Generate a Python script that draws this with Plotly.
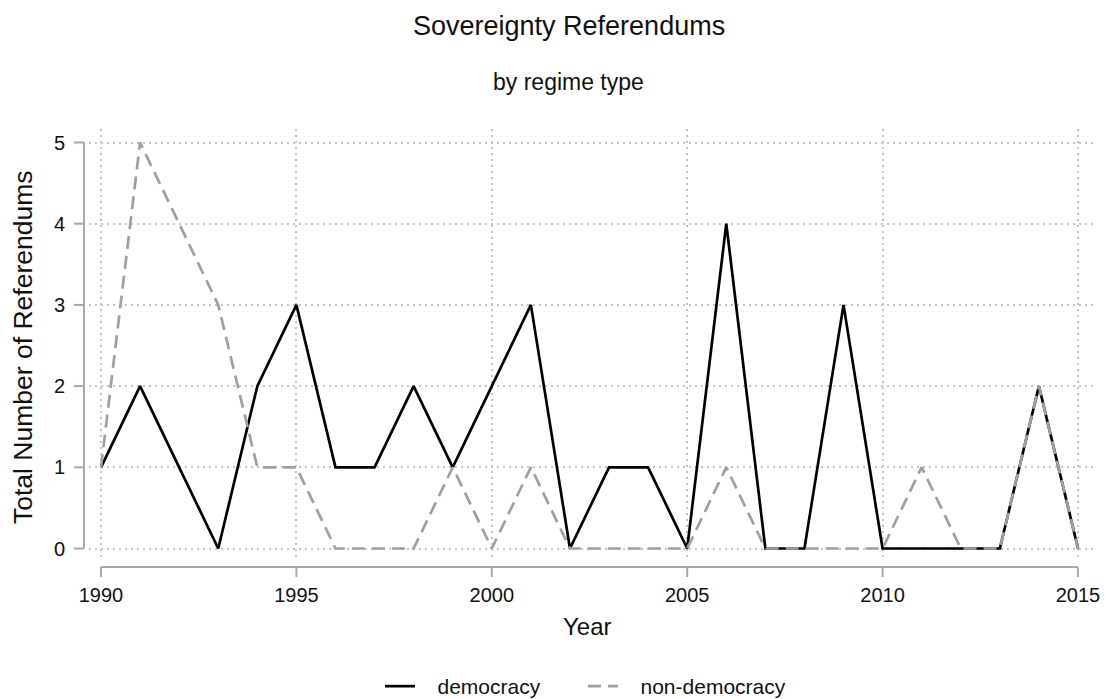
import plotly.graph_objects as go

years = list(range(1990, 2016))
democracy = [1, 2, 1, 0, 2, 3, 1, 1, 2, 1, 2, 3, 0, 1, 1, 0, 4, 0, 0, 3, 0, 0, 0, 0, 2, 0]
non_democracy = [1, 5, 4, 3, 1, 1, 0, 0, 0, 1, 0, 1, 0, 0, 0, 0, 1, 0, 0, 0, 0, 1, 0, 0, 2, 0]
x_ticks = [1990, 1995, 2000, 2005, 2010, 2015]
y_ticks = [0, 1, 2, 3, 4, 5]

FONT = "Liberation Sans, Arial, sans-serif"
W, H = 1107, 699
L, R, T, B = 89, 1093, 129, 560
pw, ph = R - L, B - T

def px_x(p):
    return (p - L) / pw

def px_y(p):
    return (B - p) / ph

AX = "#a9a9a9"
GRID = "#c4c4c4"
NB = "\u00a0" * 3

fig = go.Figure()
fig.add_trace(go.Scatter(x=years, y=democracy, mode="lines", name=NB + "democracy",
                         line=dict(color="black", width=2.7)))
fig.add_trace(go.Scatter(x=years, y=non_democracy, mode="lines", name=NB + "non-democracy",
                         line=dict(color="#a0a0a0", width=2.7, dash="13px,7px")))

shapes = []
# axis lines (Stata style, offset from the plot region)
shapes.append(dict(type="line", xref="paper", yref="y", x0=px_x(84), x1=px_x(84),
                   y0=y_ticks[0], y1=y_ticks[-1], line=dict(color=AX, width=2)))
shapes.append(dict(type="line", xref="x", yref="paper", x0=x_ticks[0], x1=x_ticks[-1],
                   y0=px_y(567), y1=px_y(567), line=dict(color=AX, width=2)))
for v in y_ticks:
    shapes.append(dict(type="line", xref="paper", yref="y", x0=px_x(84), x1=px_x(74),
                       y0=v, y1=v, line=dict(color=AX, width=2)))
for v in x_ticks:
    shapes.append(dict(type="line", xref="x", yref="paper", x0=v, x1=v,
                       y0=px_y(567), y1=px_y(577), line=dict(color=AX, width=2)))

annotations = [
    dict(text="Sovereignty Referendums", x=px_x(568.5), y=px_y(25.5), xref="paper", yref="paper",
         showarrow=False, xanchor="center", yanchor="middle",
         font=dict(family=FONT, size=27, color="#111")),
    dict(text="by regime type", x=px_x(568.5), y=px_y(82), xref="paper", yref="paper",
         showarrow=False, xanchor="center", yanchor="middle",
         font=dict(family=FONT, size=23, color="#111")),
    dict(text="Year", x=px_x(587.5), y=px_y(626.5), xref="paper", yref="paper",
         showarrow=False, xanchor="center", yanchor="middle",
         font=dict(family=FONT, size=24, color="#111")),
    dict(text="Total Number of Referendums", x=px_x(22.5), y=px_y(347.5), xref="paper", yref="paper",
         showarrow=False, xanchor="center", yanchor="middle", textangle=-90,
         font=dict(family=FONT, size=26.5, color="#111")),
]

fig.update_layout(
    width=W, height=H,
    margin=dict(l=L, r=W - R, t=T, b=H - B, autoexpand=False),
    paper_bgcolor="white", plot_bgcolor="white",
    font=dict(family=FONT, size=20, color="#111"),
    shapes=shapes, annotations=annotations,
    showlegend=True,
    legend=dict(orientation="h", xref="paper", yref="paper",
                x=px_x(380), y=px_y(666), xanchor="left", yanchor="top",
                font=dict(family=FONT, size=21, color="#111"),
                entrywidth=158, entrywidthmode="pixels",
                bgcolor="rgba(0,0,0,0)"),
    xaxis=dict(range=[1990 + (L - 101) / 39.08, 2015 + (R - 1078) / 39.08],
               tickvals=x_ticks, ticks="outside", ticklen=17, tickcolor="rgba(0,0,0,0)",
               showline=False, zeroline=False,
               showgrid=True, gridcolor=GRID, griddash="2px,4px", gridwidth=1.5,
               tickfont=dict(family=FONT, size=20, color="#111")),
    yaxis=dict(range=[-(B - 548.5) / 81.2, 5 + (142.5 - T) / 81.2],
               tickvals=y_ticks, ticks="outside", ticklen=19, tickcolor="rgba(0,0,0,0)",
               showline=False, zeroline=False,
               showgrid=True, gridcolor=GRID, griddash="2px,4px", gridwidth=1.5,
               tickfont=dict(family=FONT, size=20, color="#111")),
)

fig.write_html("out.html", config={"displayModeBar": False},
               post_script="document.body.style.margin='0';document.body.style.padding='0';"
                           "document.body.style.overflow='hidden';")
